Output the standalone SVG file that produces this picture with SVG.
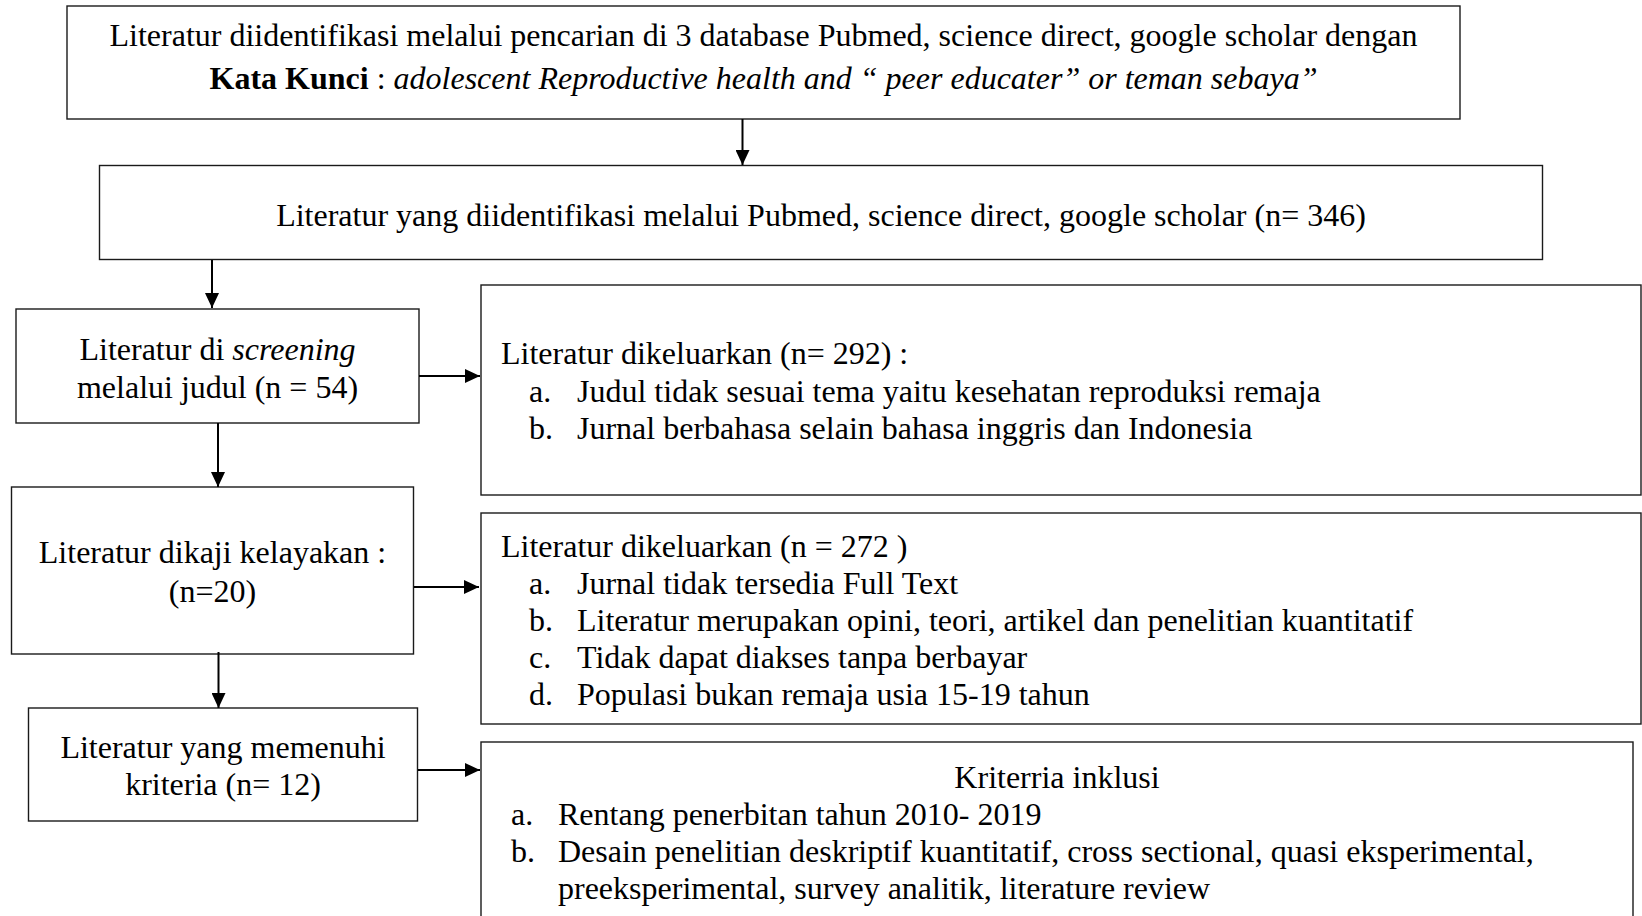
<svg xmlns="http://www.w3.org/2000/svg" width="1642" height="916" viewBox="0 0 1642 916">
<defs>
<marker id="ah" markerUnits="userSpaceOnUse" markerWidth="16" markerHeight="14" refX="15" refY="7" orient="auto">
<path d="M0,0 L15,7 L0,14 z" fill="#000"/>
</marker>
<style>
.box{fill:#fff;stroke:#1a1a1a;stroke-width:1.4}
.t{font-family:"Liberation Serif","Times New Roman",serif;font-size:32px;fill:#000}
.c{text-anchor:middle}
.con{stroke:#000;stroke-width:2;fill:none;marker-end:url(#ah)}
</style>
</defs>
<rect width="1642" height="916" fill="#fff"/>
<g id="n1">
<rect class="box" x="67" y="6" width="1393" height="113"/>
<text class="t c" x="763.5" y="45.5">Literatur diidentifikasi melalui pencarian di 3 database Pubmed, science direct, google scholar dengan</text>
<text class="t c" x="763.5" y="88.5"><tspan font-weight="bold">Kata Kunci</tspan> : <tspan font-style="italic">adolescent Reproductive health and “ peer educater” or teman sebaya”</tspan></text>
</g>
<g id="n2">
<rect class="box" x="99.5" y="165.5" width="1443" height="94"/>
<text class="t c" x="821" y="226">Literatur yang diidentifikasi melalui Pubmed, science direct, google scholar (n= 346)</text>
</g>
<g id="n3">
<rect class="box" x="16" y="309" width="403" height="114"/>
<text class="t c" x="217.5" y="359.5">Literatur di <tspan font-style="italic">screening</tspan></text>
<text class="t c" x="217.5" y="397.5">melalui judul (n = 54)</text>
</g>
<g id="n4">
<rect class="box" x="481" y="285" width="1160" height="210"/>
<text class="t" x="501" y="364">Literatur dikeluarkan (n= 292) :</text>
<text class="t" x="529" y="401.5">a.</text>
<text class="t" x="577" y="401.5">Judul tidak sesuai tema yaitu kesehatan reproduksi remaja</text>
<text class="t" x="529" y="439">b.</text>
<text class="t" x="577" y="439">Jurnal berbahasa selain bahasa inggris dan Indonesia</text>
</g>
<g id="n5">
<rect class="box" x="11.5" y="487" width="402" height="167"/>
<text class="t c" x="212.5" y="563">Literatur dikaji kelayakan :</text>
<text class="t c" x="212.5" y="601.5">(n=20)</text>
</g>
<g id="n6">
<rect class="box" x="481" y="513" width="1160" height="211"/>
<text class="t" x="501" y="556.5">Literatur dikeluarkan (n = 272 )</text>
<text class="t" x="529" y="593.5">a.</text>
<text class="t" x="577" y="593.5">Jurnal tidak tersedia Full Text</text>
<text class="t" x="529" y="630.5">b.</text>
<text class="t" x="577" y="630.5">Literatur merupakan opini, teori, artikel dan penelitian kuantitatif</text>
<text class="t" x="529" y="667.5">c.</text>
<text class="t" x="577" y="667.5">Tidak dapat diakses tanpa berbayar</text>
<text class="t" x="529" y="705">d.</text>
<text class="t" x="577" y="705">Populasi bukan remaja usia 15-19 tahun</text>
</g>
<g id="n7">
<rect class="box" x="28.5" y="708" width="389" height="113"/>
<text class="t c" x="223" y="758">Literatur yang memenuhi</text>
<text class="t c" x="223" y="795">kriteria (n= 12)</text>
</g>
<g id="n8">
<rect class="box" x="481" y="742" width="1152" height="200"/>
<text class="t c" x="1057" y="788">Kriterria inklusi</text>
<text class="t" x="511" y="824.5">a.</text>
<text class="t" x="558" y="824.5">Rentang penerbitan tahun 2010- 2019</text>
<text class="t" x="511" y="861.5">b.</text>
<text class="t" x="558" y="861.5">Desain penelitian deskriptif kuantitatif, cross sectional, quasi eksperimental,</text>
<text class="t" x="558" y="898.5">preeksperimental, survey analitik, literature review</text>
</g>
<g id="connectors">
<line class="con" x1="742.5" y1="119" x2="742.5" y2="165"/>
<line class="con" x1="212" y1="260" x2="212" y2="308"/>
<line class="con" x1="419" y1="376" x2="480" y2="376"/>
<line class="con" x1="218" y1="423" x2="218" y2="487"/>
<line class="con" x1="414" y1="587" x2="479" y2="587"/>
<line class="con" x1="218.5" y1="652" x2="218.5" y2="708"/>
<line class="con" x1="418" y1="770" x2="480" y2="770"/>
</g>
</svg>
